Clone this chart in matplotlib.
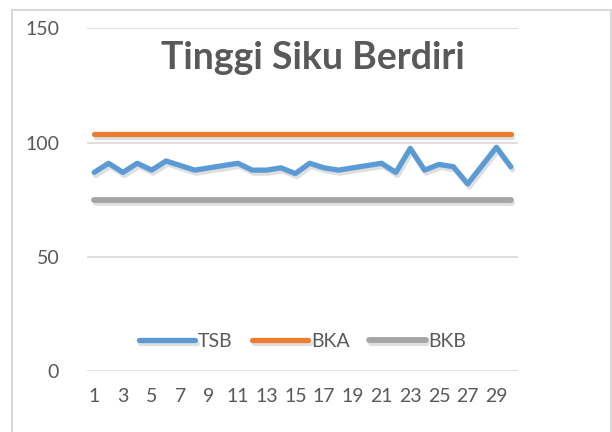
import matplotlib
matplotlib.use("Agg")
import matplotlib.pyplot as plt
import matplotlib.patheffects as pe
from matplotlib.patches import Rectangle

# data
sample_no = list(range(1, 31))
tsb = [87, 91, 87, 91, 88, 92, 90, 88, 89, 90,
       91, 88, 88, 89, 86.5, 91, 89, 88, 89, 90,
       91, 87, 97.5, 88, 90.5, 89.5, 82, 90, 98, 89.5]
bka = [104] * 30
bkb = [75] * 30
y_ticks = [0, 50, 100, 150]
x_tick_labels = [str(n) for n in range(1, 30, 2)]

plt.rcParams['font.family'] = ['Lato', 'DejaVu Sans']
text_color = '#595959'

fig = plt.figure(figsize=(6.12, 4.32), dpi=100)
ax = fig.add_axes([87 / 612, 1 - 371.3 / 432, (518 - 87) / 612, (371.3 - 28.4) / 432])

# outer chart border (cut off at the bottom in the reference)
fig.patches.append(Rectangle((12 / 612, -0.05), (611 - 12) / 612, 1 - 10 / 432 + 0.05,
                             transform=fig.transFigure, fill=False,
                             edgecolor='#D9D9D9', linewidth=1.5))

ax.plot(sample_no, tsb, color='#5B9BD5', linewidth=3.8, solid_capstyle='round',
        solid_joinstyle='round', label='TSB', zorder=4)
ax.plot(sample_no, bka, color='#ED7D31', linewidth=3.8, solid_capstyle='round', label='BKA', zorder=3)
ax.plot(sample_no, bkb, color='#A5A5A5', linewidth=4.2, solid_capstyle='round', label='BKB', zorder=3)
for ln in ax.get_lines():
    ln.set_path_effects([pe.Stroke(offset=(1.2, -2.2), foreground='#b0b0b0', alpha=0.4,
                                   linewidth=ln.get_linewidth()), pe.Normal()])

ax.set_xlim(0.5, 30.5)
ax.set_ylim(0, 150)
ax.set_yticks(y_ticks)
ax.set_xticks(range(1, 30, 2))
ax.set_xticklabels(x_tick_labels)
ax.yaxis.grid(True, color='#D9D9D9', linewidth=1.2)
ax.set_axisbelow(True)
for s in ax.spines.values():
    s.set_visible(False)
ax.tick_params(axis='both', length=0, labelsize=14, colors=text_color)
ax.tick_params(axis='x', pad=12)
ax.tick_params(axis='y', pad=20)

fig.text(0.511, 1 - 58 / 432, 'Tinggi Siku Berdiri', ha='center', va='center',
         fontsize=27, fontweight='bold', color=text_color)

leg = ax.legend(loc='center', bbox_to_anchor=(0.5, 30 / 342.9), ncol=3, frameon=False,
                fontsize=14, handlelength=2.9, handletextpad=0.15, columnspacing=1.0)
for t in leg.get_texts():
    t.set_color(text_color)

fig.savefig('out.png', dpi=100)
